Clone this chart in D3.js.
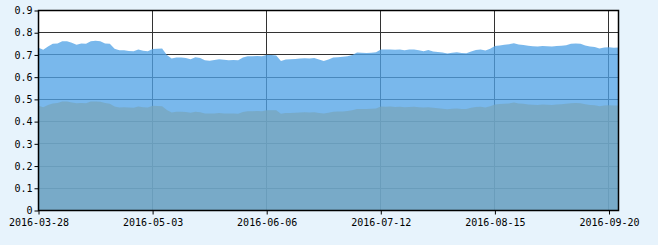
<!DOCTYPE html>
<html lang="en">
<head>
<meta charset="utf-8">
<title>Area chart</title>
<script src="https://d3js.org/d3.v7.min.js"></script>
<style type="text/css">
  body { margin: 0; background: #e7f3fc; }
  svg { display: block; }
  text { font-family: "DejaVu Sans Mono", monospace; font-size: 10px; fill: #000; }
</style>
</head>
<body>
<script type="text/javascript">

// tick labels along the bottom, and the data index each one sits on
var tickLabels = ["2016-03-28", "2016-05-03", "2016-06-06", "2016-07-12", "2016-08-15", "2016-09-20"];
var tickIndex = [0, 24, 48, 72, 96, 120];

var yTicks = [0, 0.1, 0.2, 0.3, 0.4, 0.5, 0.6, 0.7, 0.8, 0.9];

// upper series
var upper = [
  0.732, 0.723, 0.738, 0.750, 0.752, 0.762, 0.762, 0.755, 0.746, 0.752,
  0.750, 0.762, 0.764, 0.762, 0.752, 0.750, 0.728, 0.721, 0.721, 0.718,
  0.717, 0.724, 0.719, 0.717, 0.727, 0.728, 0.729, 0.700, 0.684, 0.688,
  0.688, 0.686, 0.681, 0.690, 0.686, 0.676, 0.674, 0.677, 0.681, 0.678,
  0.676, 0.677, 0.676, 0.688, 0.694, 0.694, 0.695, 0.694, 0.700, 0.700,
  0.698, 0.673, 0.680, 0.681, 0.682, 0.684, 0.685, 0.684, 0.686, 0.680,
  0.673, 0.680, 0.688, 0.690, 0.692, 0.694, 0.700, 0.711, 0.710, 0.709,
  0.710, 0.712, 0.725, 0.724, 0.725, 0.723, 0.724, 0.721, 0.724, 0.725,
  0.721, 0.717, 0.722, 0.716, 0.713, 0.711, 0.707, 0.710, 0.712, 0.709,
  0.708, 0.716, 0.722, 0.725, 0.720, 0.728, 0.740, 0.743, 0.746, 0.748,
  0.753, 0.747, 0.745, 0.741, 0.739, 0.738, 0.740, 0.739, 0.738, 0.740,
  0.741, 0.744, 0.750, 0.751, 0.750, 0.743, 0.738, 0.736, 0.729, 0.733,
  0.735, 0.732, 0.734
];

// lower series
var lower = [
  0.471, 0.465, 0.475, 0.482, 0.484, 0.491, 0.490, 0.486, 0.483, 0.484,
  0.483, 0.490, 0.491, 0.489, 0.484, 0.480, 0.468, 0.463, 0.465, 0.463,
  0.462, 0.468, 0.465, 0.464, 0.471, 0.470, 0.469, 0.452, 0.441, 0.444,
  0.444, 0.443, 0.440, 0.444, 0.442, 0.437, 0.436, 0.437, 0.439, 0.437,
  0.436, 0.436, 0.435, 0.443, 0.447, 0.447, 0.448, 0.447, 0.451, 0.451,
  0.451, 0.435, 0.439, 0.439, 0.440, 0.441, 0.442, 0.441, 0.442, 0.439,
  0.437, 0.440, 0.444, 0.446, 0.446, 0.448, 0.451, 0.457, 0.457, 0.457,
  0.458, 0.459, 0.468, 0.467, 0.468, 0.466, 0.467, 0.465, 0.466, 0.467,
  0.465, 0.463, 0.465, 0.462, 0.460, 0.458, 0.456, 0.458, 0.459, 0.457,
  0.457, 0.462, 0.466, 0.467, 0.464, 0.469, 0.477, 0.479, 0.480, 0.482,
  0.486, 0.482, 0.480, 0.477, 0.476, 0.475, 0.477, 0.476, 0.475, 0.477,
  0.478, 0.480, 0.483, 0.484, 0.483, 0.478, 0.475, 0.474, 0.469, 0.472,
  0.474, 0.472, 0.473
];

var width = 658;
var height = 245;
var plotLeft = 38.5, plotTop = 10.5, plotRight = 618.5, plotBottom = 210.5;

var xScale = d3.scaleLinear()
  .domain([0, upper.length - 1])
  .range([plotLeft, plotRight]);

var yScale = d3.scaleLinear()
  .domain([0, 0.9])
  .range([plotBottom, plotTop]);

var svg = d3.select("body")
  .append("svg")
  .attr("width", width)
  .attr("height", height);

// plot background
svg.append("rect")
  .attr("x", plotLeft)
  .attr("y", plotTop)
  .attr("width", plotRight - plotLeft)
  .attr("height", plotBottom - plotTop)
  .attr("fill", "#fff");

// grid lines
function snap(v) { return Math.round(v - 0.5) + 0.5; }

svg.append("g")
  .selectAll("line")
  .data(yTicks.slice(1, -1))
  .enter()
  .append("line")
  .attr("x1", plotLeft)
  .attr("x2", plotRight)
  .attr("y1", function(d) { return snap(yScale(d)); })
  .attr("y2", function(d) { return snap(yScale(d)); })
  .attr("stroke", "#333");

svg.append("g")
  .selectAll("line")
  .data(tickIndex.slice(1))
  .enter()
  .append("line")
  .attr("x1", function(d) { return snap(xScale(d)); })
  .attr("x2", function(d) { return snap(xScale(d)); })
  .attr("y1", plotTop)
  .attr("y2", plotBottom)
  .attr("stroke", "#333");

// areas
var area = d3.area()
  .x(function(d, i) { return xScale(i); })
  .y0(yScale(0))
  .y1(function(d) { return yScale(d); });

svg.append("path")
  .datum(upper)
  .attr("d", area)
  .attr("fill", "rgb(81,162,230)")
  .attr("fill-opacity", 0.77);

svg.append("path")
  .datum(lower)
  .attr("d", area)
  .attr("fill", "rgb(119,165,187)")
  .attr("fill-opacity", 0.73);

// frame
svg.append("rect")
  .attr("x", plotLeft)
  .attr("y", plotTop)
  .attr("width", plotRight - plotLeft)
  .attr("height", plotBottom - plotTop)
  .attr("fill", "none")
  .attr("stroke", "#000")
  .attr("stroke-width", 1.5);

// y axis
var yAxis = d3.axisLeft(yScale)
  .tickValues(yTicks)
  .tickSize(4)
  .tickPadding(2)
  .tickFormat(d3.format(".1~f"));

svg.append("g")
  .attr("transform", "translate(" + plotLeft + ",0)")
  .call(yAxis)
  .call(function(g) { g.select(".domain").remove(); })
  .call(function(g) {
    g.selectAll("line").attr("stroke", "#000");
    g.selectAll("text").attr("font-family", null).attr("font-size", null);
  });

// x axis
var xAxis = d3.axisBottom(xScale)
  .tickValues(tickIndex)
  .tickSize(4)
  .tickPadding(4)
  .tickFormat(function(d, i) { return tickLabels[i]; });

svg.append("g")
  .attr("transform", "translate(0," + plotBottom + ")")
  .call(xAxis)
  .call(function(g) { g.select(".domain").remove(); })
  .call(function(g) {
    g.selectAll("line").attr("stroke", "#000");
    g.selectAll("text").attr("font-family", null).attr("font-size", null);
  });

</script>
</body>
</html>
